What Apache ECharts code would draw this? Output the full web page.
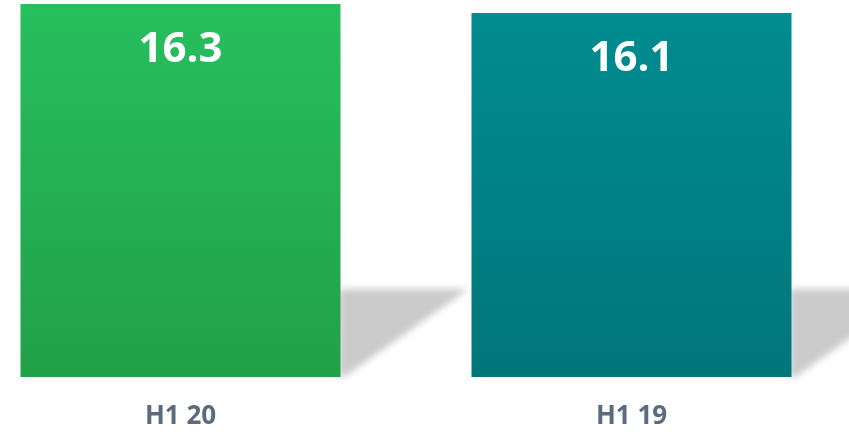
<!DOCTYPE html>
<html>
<head>
<meta charset="utf-8">
<style>
  html, body { margin: 0; padding: 0; background: #ffffff; }
  #chart { width: 849px; height: 432px; }
</style>
<script src="https://cdn.jsdelivr.net/npm/echarts@6/dist/echarts.min.js"></script>
</head>
<body>
<div id="chart"></div>
<script>
// chart data
const categories = ["H1 20", "H1 19"];
const values = [16.3, 16.1];
const barTops = ["#27BF5D", "#008C90"];
const barBottoms = ["#21A04A", "#00767B"];

const yMin = 8;
const yMax = 16.3;
const barWidth = 320;

const chart = echarts.init(document.getElementById("chart"));

// soft skewed shadow to the right of each bar
function renderShadow(params, api) {
  const base = api.coord([api.value(0), yMin]);
  const x0 = base[0] + barWidth / 2;
  const y0 = base[1];
  const h = 88;
  const len = 128;
  const off = 2000;
  return {
    type: "polygon",
    shape: {
      points: [
        [x0 - 2, y0 - h - off],
        [x0 + len, y0 - h - off],
        [x0 + 4, y0 - off],
        [x0 - 2, y0 - off],
      ],
    },
    style: {
      fill: "#cbcbcb",
      shadowColor: "#cbcbcb",
      shadowBlur: 7,
      shadowOffsetX: 0,
      shadowOffsetY: off,
    },
    z2: 0,
  };
}

chart.setOption({
  animation: false,
  backgroundColor: "#ffffff",
  grid: {
    left: -45,
    right: -8,
    top: 4,
    bottom: 55,
    outerBoundsMode: "none",
  },
  xAxis: {
    type: "category",
    data: categories,
    axisLine: { show: false },
    axisTick: { show: false },
    axisLabel: {
      margin: 27,
      color: "#5B6B7E",
      fontFamily: "Open Sans",
      fontWeight: "bold",
      fontSize: 26,
    },
  },
  yAxis: {
    type: "value",
    min: yMin,
    max: yMax,
    show: false,
    splitLine: { show: false },
  },
  series: [
    {
      type: "custom",
      renderItem: renderShadow,
      data: categories.map((c, i) => [i]),
      clip: false,
      z: 1,
      silent: true,
    },
    {
      type: "bar",
      barWidth: barWidth,
      z: 2,
      data: values.map((v, i) => ({
        value: v,
        itemStyle: {
          color: new echarts.graphic.LinearGradient(0, 0, 0, 1, [
            { offset: 0, color: barTops[i] },
            { offset: 1, color: barBottoms[i] },
          ]),
        },
      })),
      label: {
        show: true,
        position: "insideTop",
        distance: 23,
        color: "#ffffff",
        fontFamily: "Open Sans",
        fontWeight: "bold",
        fontSize: 42,
        lineHeight: 46,
      },
    },
  ],
});

window.addEventListener("resize", () => {
  chart && chart.resize();
});
</script>
</body>
</html>
